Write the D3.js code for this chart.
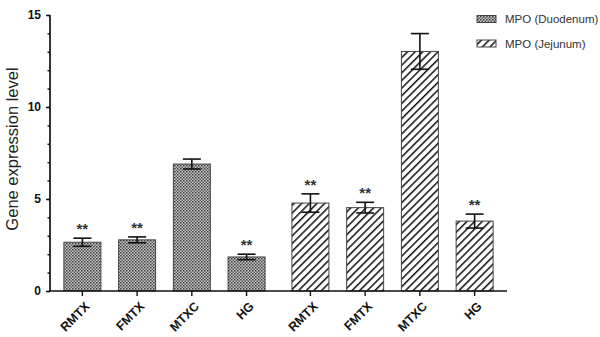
<!DOCTYPE html>
<html>
<head>
<meta charset="utf-8">
<script src="https://cdn.jsdelivr.net/npm/d3@7"></script>
<style>
  body { margin: 0; background: #fff; }
  svg { display: block; font-family: "Liberation Sans", Arial, sans-serif; }
</style>
</head>
<body>
<div id="chart"></div>
<script>
var groups = ["MPO (Duodenum)", "MPO (Jejunum)"];
var categories = ["RMTX", "FMTX", "MTXC", "HG"];
var duodenumValues = [2.65, 2.78, 6.9, 1.85];
var duodenumErrors = [0.22, 0.16, 0.27, 0.15];
var jejunumValues = [4.78, 4.53, 13.02, 3.8];
var jejunumErrors = [0.5, 0.29, 0.97, 0.38];
var significant = [true, true, false, true];
var yTicks = [0, 5, 10, 15];

var width = 600, height = 337;
var margin = {top: 15, right: 93, bottom: 46, left: 50};

var svg = d3.select("#chart").append("svg")
    .attr("width", width)
    .attr("height", height);

var defs = svg.append("defs");

// checker fill for duodenum
var checker = defs.append("pattern")
    .attr("id", "checker")
    .attr("patternUnits", "userSpaceOnUse")
    .attr("width", 3)
    .attr("height", 3);
checker.append("rect").attr("width", 3).attr("height", 3).attr("fill", "#c8c8c8");
checker.append("rect").attr("width", 1.5).attr("height", 1.5).attr("fill", "#3a3a3a");
checker.append("rect").attr("x", 1.5).attr("y", 1.5).attr("width", 1.5).attr("height", 1.5).attr("fill", "#5a5a5a");

// diagonal hatch for jejunum
var hatch = defs.append("pattern")
    .attr("id", "hatch")
    .attr("patternUnits", "userSpaceOnUse")
    .attr("width", 5.4)
    .attr("height", 5.4)
    .attr("patternTransform", "rotate(45)");
hatch.append("rect").attr("width", 5.4).attr("height", 5.4).attr("fill", "#fff");
hatch.append("line")
    .attr("x1", 0).attr("y1", 0).attr("x2", 0).attr("y2", 5.4)
    .attr("stroke", "#111").attr("stroke-width", 3);

var fills = {"MPO (Duodenum)": "url(#checker)", "MPO (Jejunum)": "url(#hatch)"};

var data = [];
groups.forEach(function (g, gi) {
    var vals = gi === 0 ? duodenumValues : jejunumValues;
    var errs = gi === 0 ? duodenumErrors : jejunumErrors;
    categories.forEach(function (c, i) {
        data.push({group: g, cat: c, value: vals[i], err: errs[i], sig: significant[i]});
    });
});

var x0 = d3.scaleBand()
    .domain(groups)
    .range([margin.left, width - margin.right])
    .paddingInner(0.04)
    .paddingOuter(0.022);

var x1 = d3.scaleBand()
    .domain(categories)
    .range([0, x0.bandwidth()])
    .paddingInner(0.324)
    .paddingOuter(0.162);

var y = d3.scaleLinear()
    .domain([0, 15])
    .range([height - margin.bottom, margin.top]);

var bx = function (d) { return x0(d.group) + x1(d.cat); };
var bw = x1.bandwidth();

// bars
svg.append("g")
    .selectAll("rect")
    .data(data)
    .enter().append("rect")
    .attr("x", bx)
    .attr("y", function (d) { return y(d.value); })
    .attr("width", bw)
    .attr("height", function (d) { return y(0) - y(d.value); })
    .attr("fill", function (d) { return fills[d.group]; })
    .attr("stroke", "#444")
    .attr("stroke-width", 1);

// error bars
var eb = svg.append("g")
    .attr("stroke", "#111")
    .attr("stroke-width", 1.6)
    .selectAll("g")
    .data(data)
    .enter().append("g");
eb.append("line")
    .attr("x1", function (d) { return bx(d) + bw / 2; })
    .attr("x2", function (d) { return bx(d) + bw / 2; })
    .attr("y1", function (d) { return y(d.value - d.err); })
    .attr("y2", function (d) { return y(d.value + d.err); });
eb.append("line")
    .attr("x1", function (d) { return bx(d) + bw / 2 - 9; })
    .attr("x2", function (d) { return bx(d) + bw / 2 + 9; })
    .attr("y1", function (d) { return y(d.value + d.err); })
    .attr("y2", function (d) { return y(d.value + d.err); });
eb.append("line")
    .attr("x1", function (d) { return bx(d) + bw / 2 - 9; })
    .attr("x2", function (d) { return bx(d) + bw / 2 + 9; })
    .attr("y1", function (d) { return y(d.value - d.err); })
    .attr("y2", function (d) { return y(d.value - d.err); });

// significance stars
svg.append("g")
    .selectAll("text")
    .data(data.filter(function (d) { return d.sig; }))
    .enter().append("text")
    .attr("x", function (d) { return bx(d) + bw / 2; })
    .attr("y", function (d) { return y(d.value + d.err) - 4; })
    .attr("text-anchor", "middle")
    .attr("font-size", 15)
    .attr("font-weight", "bold")
    .attr("fill", "#333")
    .text("**");

// y axis with minor ticks
var yAxis = svg.append("g")
    .attr("transform", "translate(" + margin.left + ",0)");
yAxis.call(d3.axisLeft(y).tickValues(d3.range(0, 16, 1)).tickSize(2.5).tickFormat(""))
    .call(function (g) { g.select(".domain").remove(); });
yAxis.append("g")
    .call(d3.axisLeft(y).tickValues(yTicks).tickSize(4).tickPadding(5))
    .call(function (g) {
        g.select(".domain").attr("stroke-width", 1.6).attr("d", "M0," + y(0) + "V" + y(15));
        g.selectAll("text").attr("font-size", 12).attr("font-weight", "bold").attr("fill", "#111");
    });
yAxis.selectAll("line").attr("stroke", "#111").attr("stroke-width", 1.4);

svg.append("text")
    .attr("transform", "translate(18," + (y(7.5) - 4) + ") rotate(-90)")
    .attr("text-anchor", "middle")
    .attr("font-size", 16.5)
    .attr("fill", "#222")
    .text("Gene expression level");

// x axis
var xAxis = svg.append("g");
xAxis.append("line")
    .attr("x1", margin.left)
    .attr("x2", width - margin.right)
    .attr("y1", y(0))
    .attr("y2", y(0))
    .attr("stroke", "#111")
    .attr("stroke-width", 1.6);
xAxis.selectAll("line.tick")
    .data(data)
    .enter().append("line")
    .attr("class", "tick")
    .attr("x1", function (d) { return bx(d) + bw / 2; })
    .attr("x2", function (d) { return bx(d) + bw / 2; })
    .attr("y1", y(0))
    .attr("y2", y(0) + 5)
    .attr("stroke", "#111")
    .attr("stroke-width", 1.4);
// rotated labels (45 degrees, written as a matrix)
var c45 = Math.SQRT1_2;
svg.selectAll("text.xlabel")
    .data(data)
    .enter().append("text")
    .attr("class", "xlabel")
    .attr("transform", function (d) {
        return "matrix(" + c45 + "," + (-c45) + "," + c45 + "," + c45 + "," +
            (bx(d) + bw / 2 + 5) + "," + (y(0) + 13) + ")";
    })
    .attr("text-anchor", "end")
    .attr("dy", "0.35em")
    .attr("font-size", 12.5)
    .attr("font-weight", "bold")
    .attr("fill", "#111")
    .text(function (d) { return d.cat; });

// legend
var legend = svg.append("g")
    .selectAll("g")
    .data(groups)
    .enter().append("g")
    .attr("transform", function (d, i) { return "translate(477," + (19 + i * 24.5) + ")"; });
legend.append("rect")
    .attr("y", -3.5)
    .attr("width", 19)
    .attr("height", 7)
    .attr("fill", function (d) { return fills[d]; })
    .attr("stroke", "#444");
legend.append("text")
    .attr("x", 28)
    .attr("dy", "0.35em")
    .attr("font-size", 11.5)
    .attr("fill", "#333")
    .text(function (d) { return d; });
</script>
</body>
</html>
